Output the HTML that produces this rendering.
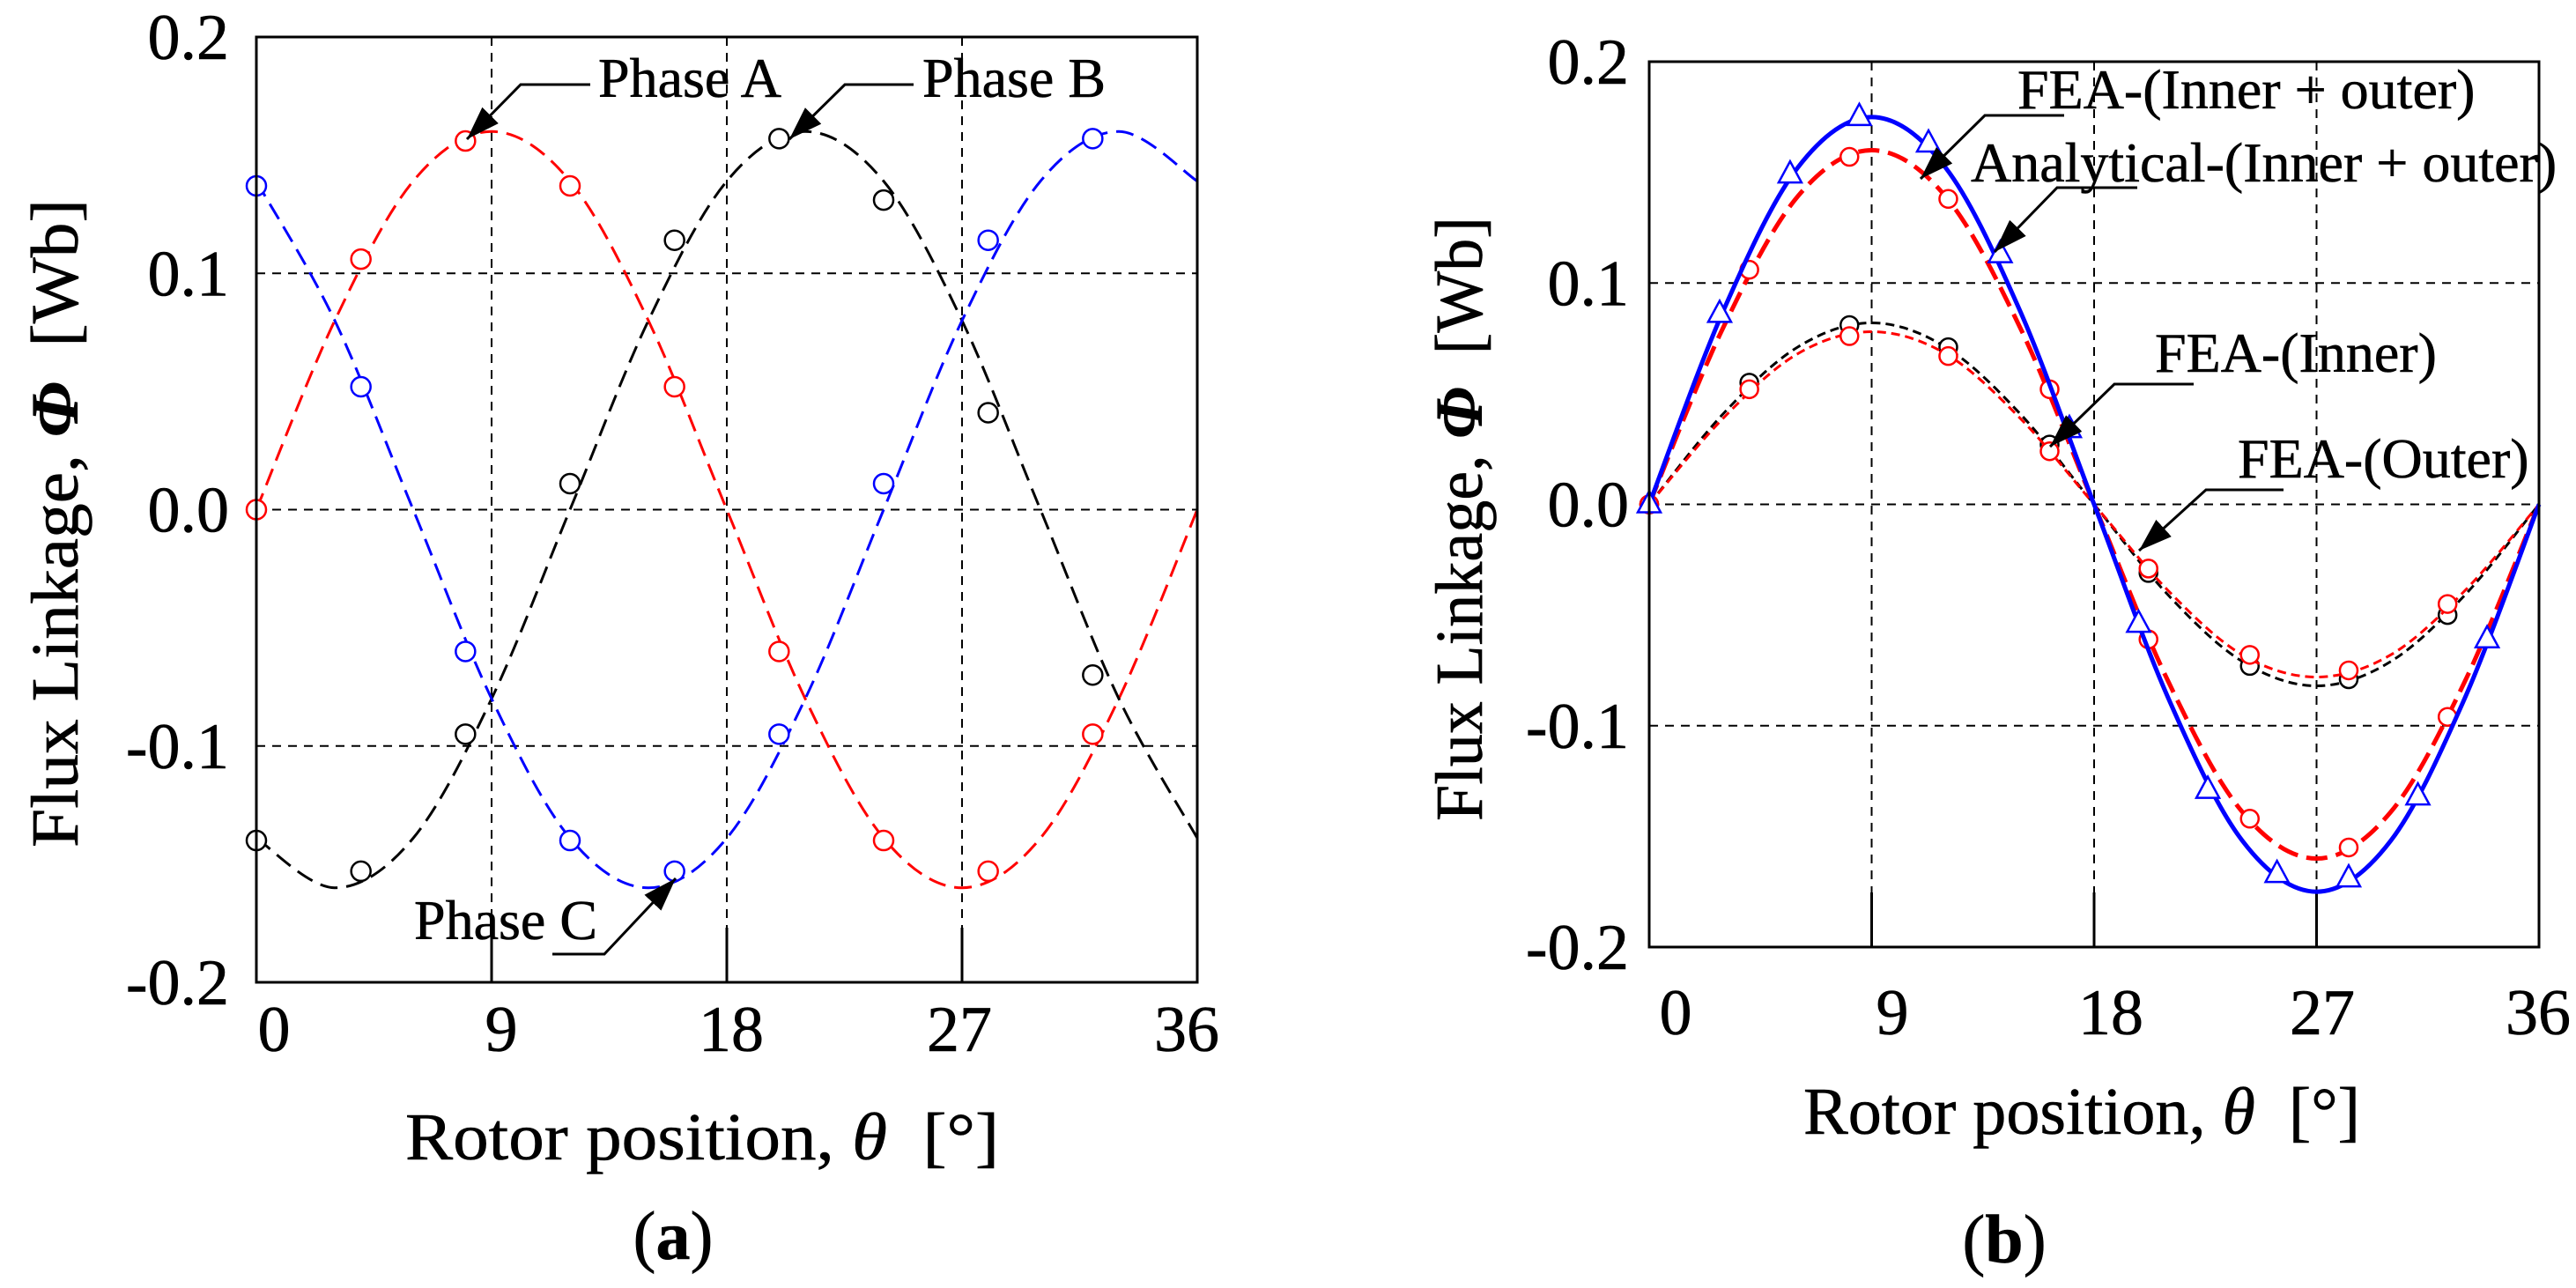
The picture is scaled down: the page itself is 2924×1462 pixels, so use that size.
<!DOCTYPE html>
<html><head><meta charset="utf-8"><style>
html,body{margin:0;padding:0;background:#fff;}
svg{display:block;font-family:"Liberation Serif",serif;}
text{stroke:#000;stroke-width:0.6;}
</style></head><body>
<svg id="fig" width="2924" height="1462" viewBox="0 0 2924 1462" xmlns="http://www.w3.org/2000/svg">
<defs>
<marker id="arr" markerWidth="40" markerHeight="30" refX="38" refY="13" orient="auto" markerUnits="userSpaceOnUse">
<path d="M0,0 L38,13 L0,26 Z" fill="#000"/>
</marker>
</defs>
<g id="pa"></g>
<g id="pb"></g>
</svg>
<script>
// ---------- Panel (a) data ----------
const aX = [0, 4, 8, 12, 16, 20, 24, 28, 32];
const aPhaseA = [0, 0.106, 0.156, 0.137, 0.052, -0.060, -0.140, -0.153, -0.095];
const aPhaseB = [-0.140, -0.153, -0.095, 0.011, 0.114, 0.157, 0.131, 0.041, -0.070];
const aPhaseC = [0.137, 0.052, -0.060, -0.140, -0.153, -0.095, 0.011, 0.114, 0.157];
const curveX = [0, 3, 6, 9, 12, 15, 18, 21, 24, 27, 30, 33, 36];
const aCurveA = [0, 0.08, 0.139, 0.16, 0.139, 0.08, 0, -0.08, -0.139, -0.16, -0.139, -0.08, 0];
const aCurveB = [-0.139, -0.16, -0.139, -0.08, 0, 0.08, 0.139, 0.16, 0.139, 0.08, 0, -0.08, -0.139];
const aCurveC = [0.139, 0.08, 0, -0.08, -0.139, -0.16, -0.139, -0.08, 0, 0.08, 0.139, 0.16, 0.139];
// ---------- Panel (b) data ----------
const bTriX = [0, 2.85, 5.7, 8.5, 11.3, 14.2, 17.0, 19.8, 22.6, 25.4, 28.3, 31.1, 33.9];
const bFeaTotal = [0, 0.086, 0.149, 0.175, 0.163, 0.113, 0.034, -0.054, -0.129, -0.167, -0.169, -0.132, -0.061];
const bCircX = [0, 4.05, 8.1, 12.1, 16.2, 20.2, 24.3, 28.3, 32.3];
const bAnaTotal = [0, 0.106, 0.157, 0.138, 0.052, -0.061, -0.142, -0.155, -0.096];
const bFeaInner = [0, 0.055, 0.081, 0.071, 0.027, -0.031, -0.073, -0.079, -0.050];
const bFeaOuter = [0, 0.052, 0.076, 0.067, 0.024, -0.029, -0.068, -0.075, -0.045];
const bCurveTotal = [0, 0.0875, 0.152, 0.175, 0.152, 0.0875, 0, -0.0875, -0.152, -0.175, -0.152, -0.0875, 0];
const bCurveAna = [0, 0.08, 0.139, 0.16, 0.139, 0.08, 0, -0.08, -0.139, -0.16, -0.139, -0.08, 0];
const bCurveInner = [0, 0.041, 0.071, 0.082, 0.071, 0.041, 0, -0.041, -0.071, -0.082, -0.071, -0.041, 0];
const bCurveOuter = [0, 0.039, 0.068, 0.078, 0.068, 0.039, 0, -0.039, -0.068, -0.078, -0.068, -0.039, 0];
const xTicks = [0, 9, 18, 27, 36];
const yTicks = [0.2, 0.1, 0.0, -0.1, -0.2];
const yTickLabels = ["0.2", "0.1", "0.0", "-0.1", "-0.2"];

const NS = "http://www.w3.org/2000/svg";
function mk(parent, tag, attrs, text) {
  const e = document.createElementNS(NS, tag);
  for (const k in attrs) e.setAttribute(k, attrs[k]);
  if (text !== undefined) e.textContent = text;
  parent.appendChild(e);
  return e;
}
function spline(pts) {
  let d = "M" + pts[0][0] + "," + pts[0][1];
  for (let i = 0; i < pts.length - 1; i++) {
    const p0 = pts[Math.max(0, i - 1)], p1 = pts[i], p2 = pts[i + 1], p3 = pts[Math.min(pts.length - 1, i + 2)];
    const c1 = [p1[0] + (p2[0] - p0[0]) / 6, p1[1] + (p2[1] - p0[1]) / 6];
    const c2 = [p2[0] - (p3[0] - p1[0]) / 6, p2[1] - (p3[1] - p1[1]) / 6];
    d += " C" + c1[0] + "," + c1[1] + " " + c2[0] + "," + c2[1] + " " + p2[0] + "," + p2[1];
  }
  return d;
}

function panel(g, P) {
  const sx = v => P.L + (v / 36) * (P.R - P.L);
  const sy = v => P.T + (0.2 - v) / 0.4 * (P.B - P.T);
  [9, 18, 27].forEach(v => {
    const l = mk(g, "line", {x1: sx(v), x2: sx(v), y1: P.T, y2: P.B, stroke: "#000", "stroke-width": 2, "stroke-dasharray": "10 8"});
    
    
    const t = mk(g, "line", {x1: sx(v), x2: sx(v), y1: P.B - 62, y2: P.B, stroke: "#000", "stroke-width": 3});
    
    
  });
  [0.1, 0, -0.1].forEach(v => {
    const l = mk(g, "line", {x1: P.L, x2: P.R, y1: sy(v), y2: sy(v), stroke: "#000", "stroke-width": 2, "stroke-dasharray": "10 8"});
    
    
  });
  xTicks.forEach((v, i) => {
    const t = mk(g, "text", {x: P.xLab[i], y: P.xLabY, "font-size": 74, "text-anchor": "middle"}, String(v));
    
    
  });
  yTicks.forEach((v, i) => {
    const t = mk(g, "text", {x: P.yLabX, y: sy(v) + 25, "font-size": 74, "text-anchor": "end"}, yTickLabels[i]);
    
    
  });
  P.series.forEach(s => {
    const pts = curveX.map((x, i) => [sx(x), sy(s.curve[i])]);
    const c = mk(g, "path", {d: spline(pts), fill: "none", stroke: s.color, "stroke-width": s.w, "stroke-dasharray": s.dash || "none"});
    
    
    s.ys.forEach((y, i) => {
      const cx = sx(s.xs[i]), cy = sy(y);
      let m;
      if (s.tri) {
        m = mk(g, "path", {d: `M${cx},${cy - 15} L${cx + 13},${cy + 9} L${cx - 13},${cy + 9} Z`, fill: "#fff", stroke: s.color, "stroke-width": 2.5});
      } else {
        m = mk(g, "circle", {cx: cx, cy: cy, r: s.r, fill: "#fff", stroke: s.color, "stroke-width": 2.5});
      }
      
      
    });
  });
  const f = mk(g, "rect", {x: P.L, y: P.T, width: P.R - P.L, height: P.B - P.T, fill: "none", stroke: "#000", "stroke-width": 3});
  
  
  P.notes.forEach(n => {
    const l = mk(g, "polyline", {points: n.pts, fill: "none", stroke: "#000", "stroke-width": 3, "marker-end": "url(#arr)"});
    
    
    const t = mk(g, "text", {x: n.x, y: n.y, "font-size": 64}, n.t);
    
    
  });
  const xt = mk(g, "text", {x: P.xtX, y: P.xtY, "font-size": 76, "text-anchor": "middle", textLength: P.xtLen, lengthAdjust: "spacingAndGlyphs"});
  
  
  xt.innerHTML = 'Rotor position, <tspan font-style="italic">θ</tspan>\u00a0\u00a0[°]';
  const yt = mk(g, "text", {x: 0, y: 0, "font-size": 76, "text-anchor": "middle", textLength: P.ytLen, lengthAdjust: "spacingAndGlyphs", transform: `translate(${P.ytX},${P.ytY}) rotate(-90)`});
  
  
  yt.innerHTML = 'Flux Linkage, <tspan font-style="italic" font-weight="bold">Φ</tspan>\u00a0\u00a0[Wb]';
  const cap = mk(g, "text", {x: P.capX, y: P.capY, "font-size": 78, "text-anchor": "middle"});
  
  
  cap.innerHTML = '(<tspan font-weight="bold">' + P.cap + '</tspan>)';
}

panel(document.getElementById("pa"), {
  L: 291, R: 1359, T: 42, B: 1115,
  xLab: [311, 569, 830, 1089, 1347], xLabY: 1193, yLabX: 260,
  xtX: 797, xtY: 1316, xtLen: 674, ytX: 88, ytY: 594, ytLen: 736,
  capX: 764, capY: 1429, cap: "a",
  series: [
    {name: "phase-a", xs: aX, ys: aPhaseA, curve: aCurveA, color: "#f00", w: 3, dash: "20 10", r: 11},
    {name: "phase-b", xs: aX, ys: aPhaseB, curve: aCurveB, color: "#000", w: 3, dash: "20 10", r: 11},
    {name: "phase-c", xs: aX, ys: aPhaseC, curve: aCurveC, color: "#00f", w: 3, dash: "20 10", r: 11}
  ],
  notes: [
    {pts: "670,96 591,96 530,158", x: 679, y: 110, t: "Phase A"},
    {pts: "1037,96 959,96 896,158", x: 1047, y: 110, t: "Phase B"},
    {pts: "627,1083 686,1083 767,997", x: 470, y: 1066, t: "Phase C"}
  ]
});

panel(document.getElementById("pb"), {
  L: 1872, R: 2882, T: 70, B: 1075,
  xLab: [1902, 2148, 2396, 2636, 2881], xLabY: 1174, yLabX: 1849,
  xtX: 2363, xtY: 1287, xtLen: 632, ytX: 1682, ytY: 589, ytLen: 686,
  capX: 2275, capY: 1433, cap: "b",
  series: [
    {name: "fea-inner", xs: bCircX, ys: bFeaInner, curve: bCurveInner, color: "#000", w: 3, dash: "10 6", r: 10},
    {name: "fea-outer", xs: bCircX, ys: bFeaOuter, curve: bCurveOuter, color: "#f00", w: 3, dash: "10 6", r: 10},
    {name: "analytical-total", xs: bCircX, ys: bAnaTotal, curve: bCurveAna, color: "#f00", w: 5, dash: "24 10", r: 10},
    {name: "fea-total", xs: bTriX, ys: bFeaTotal, curve: bCurveTotal, color: "#00f", w: 5, dash: null, tri: true}
  ],
  notes: [
    {pts: "2343,131 2253,131 2180,203", x: 2290, y: 123, t: "FEA-(Inner + outer)"},
    {pts: "2426,213 2335,213 2264,286", x: 2237, y: 206, t: "Analytical-(Inner + outer)"},
    {pts: "2490,436 2400,436 2327,507", x: 2446, y: 422, t: "FEA-(Inner)"},
    {pts: "2592,556 2504,556 2428,625", x: 2540, y: 542, t: "FEA-(Outer)"}
  ]
});
</script>
</body></html>
